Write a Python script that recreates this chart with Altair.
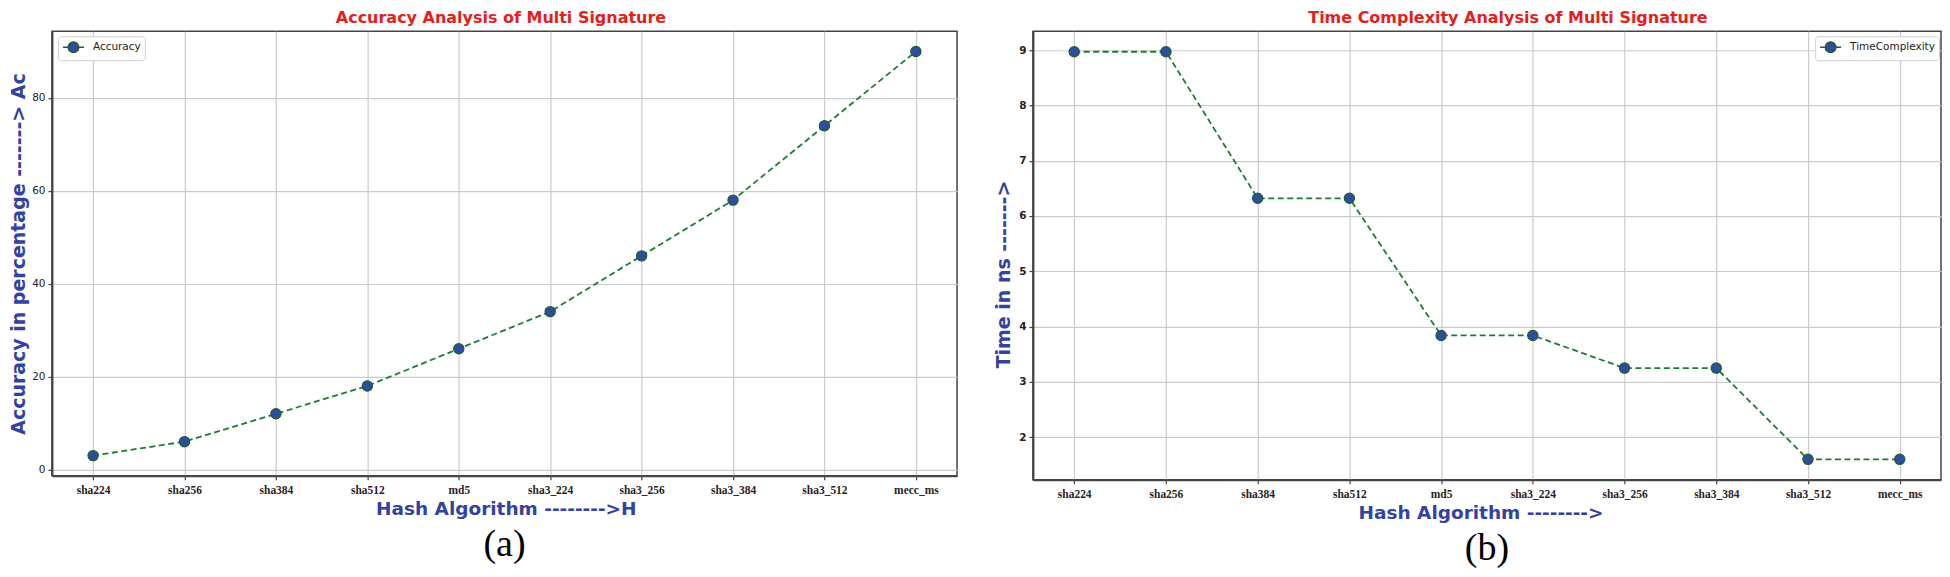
import altair as alt
import pandas as pd

# ---- data ----
algorithms = ["sha224", "sha256", "sha384", "sha512", "md5",
              "sha3_224", "sha3_256", "sha3_384", "sha3_512", "mecc_ms"]
accuracy = [3, 6, 12, 18, 26, 34, 46, 58, 74, 90]
time_ns = [8.97, 8.97, 6.32, 6.32, 3.84, 3.84, 3.25, 3.25, 1.6, 1.6]
acc_ticks = [0, 20, 40, 60, 80]
time_ticks = [2, 3, 4, 5, 6, 7, 8, 9]
acc_domain = [-1.35, 94.35]
time_domain = [1.23, 9.34]
series_names = ["Accuracy", "TimeComplexity"]
panel_titles = ["Accuracy Analysis of Multi Signature",
                "Time Complexity Analysis of Multi Signature"]
x_titles = ["Hash Algorithm -------->H", "Hash Algorithm -------->"]
y_titles = ["Accuracy in percentage -------> Ac", "Time in ns ------->"]
captions = ["(a)", "(b)"]

BLUE_TXT = "#3342a0"
RED = "#e3211c"
GREEN = "#1e7b34"
MARK_FILL = "#2f4d9e"
MARK_EDGE = "#1d5e2b"

# legend glyph: short line - circle - short line (slot 12px, drawn 21px wide)
LEGEND_PATH = ("M-1,0L-0.125,0M1.625,0L2.5,0"
               "M-0.125,0A0.875,0.875 0 1,1 1.625,0"
               "A0.875,0.875 0 1,1 -0.125,0Z")


def panel(values, series, ticks, domain, title, xt, yt, cap,
          width, height, title_x, xtitle_x, ytitle_pos, legend_xy,
          ylabel_bold, ytitle_pad):
    df = pd.DataFrame({"alg": algorithms, "value": values, "series": series})
    xscale = alt.Scale(type="point", padding=0.45)
    x_bottom = alt.X("alg:O", sort=algorithms, scale=xscale,
                     axis=alt.Axis(title=xt, orient="bottom", labelAngle=0,
                                   grid=True,
                                   labelFont="Liberation Serif",
                                   labelFontSize=11.5, labelFontWeight="bold",
                                   labelColor="#2b1d1d", labelPadding=5,
                                   tickSize=4,
                                   titleFont="DejaVu Sans",
                                   titleFontSize=18.5, titleFontWeight="bold",
                                   titleColor=BLUE_TXT, titlePadding=3,
                                   titleX=xtitle_x, titleAlign="left"))
    x_top = alt.X("alg:O", sort=algorithms, scale=xscale,
                  axis=alt.Axis(title=title, orient="top", labels=False,
                                ticks=False, domain=False, grid=False,
                                titleFont="DejaVu Sans", titleFontSize=16,
                                titleFontWeight="bold", titleColor=RED,
                                titlePadding=6, titleX=title_x,
                                titleAlign="center"))
    yaxis_kw = dict(title=yt, values=ticks, grid=True,
                    labelFont="DejaVu Sans", labelFontSize=10.5,
                    labelFontWeight="bold" if ylabel_bold else "normal",
                    labelColor="#222222", labelPadding=3, tickSize=4,
                    titleFont="DejaVu Sans", titleFontSize=19,
                    titleFontWeight="bold", titleColor=BLUE_TXT,
                    titlePadding=ytitle_pad)
    if ytitle_pos is not None:
        yaxis_kw.update(titleAngle=270, titleAlign="center",
                        titleBaseline="alphabetic",
                        titleX=ytitle_pos[0], titleY=ytitle_pos[1])
    y = alt.Y("value:Q",
              scale=alt.Scale(domain=domain, nice=False, zero=False),
              axis=alt.Axis(**yaxis_kw))
    line = alt.Chart(df).mark_line(color=GREEN, strokeDash=[6, 3.5],
                                   strokeWidth=1.8).encode(x=x_top, y=y)
    pts = alt.Chart(df).mark_point(filled=True, size=105, opacity=1,
                                   stroke=MARK_EDGE, strokeWidth=1.2).encode(
        x=x_bottom, y=y,
        color=alt.Color("series:N",
                        scale=alt.Scale(domain=[series], range=[MARK_FILL]),
                        legend=alt.Legend(title=None, orient="none",
                                          legendX=legend_xy[0],
                                          legendY=legend_xy[1],
                                          padding=4,
                                          symbolType=LEGEND_PATH,
                                          symbolSize=144,
                                          symbolStrokeColor=MARK_EDGE,
                                          symbolStrokeWidth=1.5,
                                          labelFont="DejaVu Sans",
                                          labelFontSize=10.5,
                                          labelColor="#222222",
                                          labelOffset=17,
                                          strokeColor="#d0d0d0",
                                          fillColor="white",
                                          cornerRadius=3)))
    return alt.layer(line, pts).resolve_axis(x="independent").properties(
        width=width, height=height,
        title=alt.TitleParams(cap, orient="bottom", anchor="middle",
                              font="Liberation Serif", fontSize=38,
                              fontWeight="normal", color="black",
                              baseline="alphabetic", offset=38))


pa = panel(accuracy, series_names[0], acc_ticks, acc_domain, panel_titles[0],
           x_titles[0], y_titles[0], captions[0], 906, 445, 449, 324, None,
           (6, 5), False, 3)
pb = panel(time_ns, series_names[1], time_ticks, time_domain, panel_titles[1],
           x_titles[1], y_titles[1], captions[1], 909, 449, 475, 325.5,
           (-23, 243), (783, 5), True, 6)

chart = alt.hconcat(pa, pb, spacing=76, bounds="flush").resolve_scale(
    color="independent"
).properties(
    padding={"left": 0, "top": 0, "right": 0, "bottom": 0}
).configure(font="DejaVu Sans").configure_view(
    stroke="#444444", strokeWidth=1.5
).configure_axis(
    gridColor="#cbcbcb", gridWidth=1.2, domainColor="#444444",
    domainWidth=2, tickColor="#444444", tickWidth=1.2
)

chart.save("out.html", embed_options={"renderer": "svg", "actions": False})
